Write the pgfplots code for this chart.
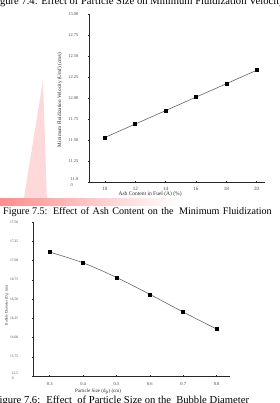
\documentclass[border=0pt]{standalone}
\usepackage{fontspec}
\setmainfont{Liberation Serif}
\usepackage{pgfplots}
\pgfplotsset{compat=1.18}
\begin{document}
\begin{tikzpicture}
\pgfplotsset{
  myaxis/.style={
    scale only axis,
    axis x line=bottom, axis y line=left,
    axis line style={-, black!85, line width=0.5pt},
    tick style={black!85, line width=0.4pt},
    major tick length=2.5pt,
    tick align=center,
    /pgf/number format/assume math mode=true,
    clip=false,
  }
}
\useasboundingbox (0pt,0pt) rectangle (280pt,-403pt);
\begin{scope}
\clip (0pt,0pt) rectangle (280pt,-403pt);
% watermark
\fill[red!25, opacity=0.6] (43pt,-80pt) -- (47pt,-204pt) -- (23pt,-204pt) -- cycle;
\shade[left color=red!45, right color=white] (0pt,-198pt) rectangle (178pt,-205pt);
% captions
\node[anchor=base west, inner sep=0pt, font=\fontsize{10.6}{12}\selectfont] at (-9pt,-5pt) {Figure 7.4: Effect of Particle Size on Minimum Fluidization Velocity};
\node[anchor=base west, inner sep=0pt, font=\fontsize{10.1}{12}\selectfont] at (3pt,-214pt) {Figure 7.5:\hspace{5.5pt}Effect\hspace{3.4pt}of\hspace{3.4pt}Ash\hspace{3.4pt}Content\hspace{3.4pt}on\hspace{3.4pt}the\hspace{5.5pt}Minimum\hspace{3.4pt}Fluidization};
\node[anchor=base west, inner sep=0pt, font=\fontsize{10.6}{12}\selectfont] at (-6.5pt,-403pt) {Figure 7.6: \ Effect \ of Particle Size on the \ Bubble Diameter};
% chart 1
\begin{axis}[myaxis,
  at={(89pt,-182pt)}, anchor=south west,
  width=176pt, height=168pt,
  xmin=8.95, xmax=20.55, ymin=11, ymax=13,
  xtick={10,12,14,16,18,20},
  ytick={11,11.25,11.5,11.75,12,12.25,12.5,12.75,13},
  yticklabels={{\shortstack[l]{11.0\\0}},11.25,11.50,11.75,12.00,12.25,12.50,12.75,13.00},
  xticklabel style={font=\fontsize{5}{5}\selectfont, text=black!75},
  yticklabel style={font=\fontsize{4.4}{4.6}\selectfont, text=black!75, xshift=-6pt},
  xlabel={Ash Content in Fuel (A) (\%)},
  ylabel={Minimum Fluidization Velocity (Umf) (cm/s)},
  xlabel style={font=\fontsize{5.5}{6}\selectfont, text=black!85, at={(axis description cs:0.347,-0.071)}, anchor=center},
  ylabel style={font=\fontsize{5.2}{6}\selectfont, text=black!85, at={(axis description cs:-0.165,0.49)}, anchor=center, rotate=0},
]
\addplot[gray!80!black, line width=0.6pt, mark=square*, mark size=1.5pt, mark options={black, fill=black}]
coordinates {(10,11.53) (12,11.69) (14,11.85) (16,12.01) (18,12.17) (20,12.33)};
\end{axis}
% chart 2
\begin{axis}[myaxis,
  at={(33pt,-376pt)}, anchor=south west,
  width=197pt, height=154pt,
  xmin=0.25, xmax=0.84, ymin=15.5, ymax=17.5,
  xtick={0.3,0.4,0.5,0.6,0.7,0.8},
  xticklabels={0.3,0.4,0.5,0.6,0.7,0.8},
  ytick={15.5,15.75,16,16.25,16.5,16.75,17,17.25,17.5},
  yticklabels={{\shortstack[l]{15.5\\0}},15.75,16.00,16.25,16.50,16.75,17.00,17.25,17.50},
  xticklabel style={font=\fontsize{4.5}{5}\selectfont, text=black!75, yshift=-1.5pt},
  yticklabel style={font=\fontsize{3.6}{3.8}\selectfont, text=black!75, xshift=-10pt},
  xlabel={Particle Size (d\textsubscript{p}) (cm)},
  ylabel={Bubble Diameter (D\textsubscript{b}) (cm)},
  xlabel style={font=\fontsize{5}{6}\selectfont, text=black!85, at={(axis description cs:0.33,-0.104)}, anchor=center},
  ylabel style={font=\fontsize{3.6}{4}\selectfont, text=black!85, at={(axis description cs:-0.132,0.46)}, anchor=center, rotate=0},
]
\addplot[gray!80!black, line width=0.6pt, smooth, mark=square*, mark size=1.5pt, mark options={black, fill=black}]
coordinates {(0.3,17.11) (0.4,16.97) (0.5,16.78) (0.6,16.56) (0.7,16.33) (0.8,16.11)};
\end{axis}
\end{scope}
\end{tikzpicture}
\end{document}
